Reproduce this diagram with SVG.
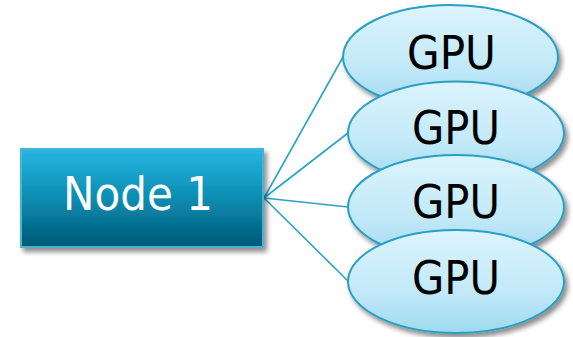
<svg xmlns="http://www.w3.org/2000/svg" width="573" height="337" viewBox="0 0 573 337">
  <defs>
    <linearGradient id="rectGrad" x1="0" y1="0" x2="0" y2="1">
      <stop offset="0" stop-color="#27b6e2"/>
      <stop offset="0.5" stop-color="#0a8db2"/>
      <stop offset="1" stop-color="#025876"/>
    </linearGradient>
    <linearGradient id="ellGrad" x1="0" y1="0" x2="0" y2="1">
      <stop offset="0" stop-color="#dcf4fd"/>
      <stop offset="0.6" stop-color="#c2e9f8"/>
      <stop offset="1" stop-color="#9fd9ef"/>
    </linearGradient>
    <filter id="shadow" x="-20%" y="-20%" width="150%" height="150%">
      <feGaussianBlur in="SourceAlpha" stdDeviation="2.5"/>
      <feOffset dx="3" dy="4" result="b"/>
      <feComponentTransfer><feFuncA type="linear" slope="0.45"/></feComponentTransfer>
      <feMerge><feMergeNode/><feMergeNode in="SourceGraphic"/></feMerge>
    </filter>
  </defs>
  <style>
    .conn { stroke: #2aa3c4; stroke-width: 1.6; fill: none; }
    .gpu ellipse { fill: url(#ellGrad); stroke: #2a9fc2; stroke-width: 2; filter: url(#shadow); }
    .gpu text { font-family: "DejaVu Sans", "Liberation Sans", sans-serif; font-size: 46px; fill: #000; text-anchor: middle; }
    .node rect { fill: url(#rectGrad); stroke: #4bb3d2; stroke-width: 2; filter: url(#shadow); }
    .node text { font-family: "DejaVu Sans", "Liberation Sans", sans-serif; font-size: 46px; fill: #fff; text-anchor: middle; }
  </style>
  <g id="connectors">
    <line class="conn" x1="264" y1="198" x2="343" y2="57"/>
    <line class="conn" x1="264" y1="198" x2="348" y2="133"/>
    <line class="conn" x1="264" y1="198" x2="348" y2="207"/>
    <line class="conn" x1="264" y1="198" x2="349" y2="282"/>
  </g>
  <g id="node1" class="node">
    <rect x="21" y="149" width="242" height="98"/>
    <text x="138" y="210" textLength="150" lengthAdjust="spacingAndGlyphs">Node 1</text>
  </g>
  <g id="gpu1" class="gpu">
    <ellipse cx="450.5" cy="57" rx="107.5" ry="52"/>
    <text x="451.5" y="69" textLength="89" lengthAdjust="spacingAndGlyphs">GPU</text>
  </g>
  <g id="gpu2" class="gpu">
    <ellipse cx="456" cy="133" rx="108" ry="51.5"/>
    <text x="456" y="144" textLength="88" lengthAdjust="spacingAndGlyphs">GPU</text>
  </g>
  <g id="gpu3" class="gpu">
    <ellipse cx="456" cy="207" rx="108" ry="52"/>
    <text x="456" y="218" textLength="88" lengthAdjust="spacingAndGlyphs">GPU</text>
  </g>
  <g id="gpu4" class="gpu">
    <ellipse cx="456" cy="281.5" rx="108" ry="51.5"/>
    <text x="456" y="294" textLength="88" lengthAdjust="spacingAndGlyphs">GPU</text>
  </g>
</svg>
